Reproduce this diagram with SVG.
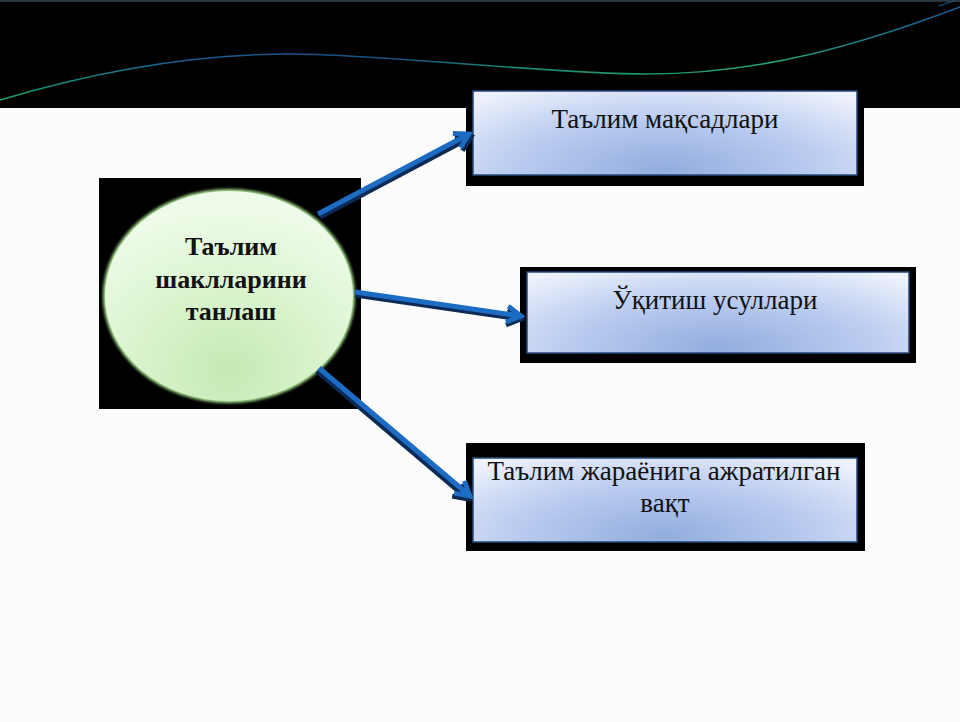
<svg xmlns="http://www.w3.org/2000/svg" width="960" height="722" viewBox="0 0 960 722">
<defs>
<style>
.box{fill:url(#bg);stroke:#24497a;stroke-width:1.5}
.frame{fill:#000}
.t{font-family:"Liberation Serif","Times New Roman",serif;font-size:27px;fill:#111;text-anchor:middle}
.tb{font-family:"Liberation Serif","Times New Roman",serif;font-size:26px;font-weight:bold;fill:#111;text-anchor:middle}
.arr{fill:none;stroke:#1c6cc4;stroke-width:5;stroke-linecap:butt}
.sh{fill:none;stroke:#0c2a55;stroke-width:5;stroke-linecap:butt}
</style>
<radialGradient id="bg" cx="0.5" cy="1" r="0.75" fx="0.5" fy="0.95" gradientTransform="translate(0.5 1) scale(1 1.6) translate(-0.5 -1)">
<stop offset="0" stop-color="#92addf"/>
<stop offset="0.55" stop-color="#bccdf0"/>
<stop offset="1" stop-color="#eef2fc"/>
</radialGradient>
<radialGradient id="cg" cx="0.5" cy="0.85" r="0.8">
<stop offset="0" stop-color="#c4eab4"/>
<stop offset="0.6" stop-color="#dff6d4"/>
<stop offset="1" stop-color="#effbea"/>
</radialGradient>
<linearGradient id="wave" x1="0" y1="0" x2="960" y2="0" gradientUnits="userSpaceOnUse">
<stop offset="0" stop-color="#1aa070"/>
<stop offset="0.2" stop-color="#1a5a92"/>
<stop offset="0.4" stop-color="#1a4f80"/>
<stop offset="0.55" stop-color="#1a8a72"/>
<stop offset="0.8" stop-color="#20a070"/>
<stop offset="1" stop-color="#1a5a9a"/>
</linearGradient>
<filter id="glow" x="-10%" y="-10%" width="120%" height="120%">
<feGaussianBlur stdDeviation="1.6"/>
</filter>
<marker id="ah" viewBox="0 0 10 10" refX="8" refY="5" markerWidth="4" markerHeight="4" orient="auto" markerUnits="strokeWidth">
<path d="M1,1 L8,5 L1,9" fill="none" stroke="#1c6cc4" stroke-width="2.4"/>
</marker>
<marker id="ahs" viewBox="0 0 10 10" refX="8" refY="5" markerWidth="4" markerHeight="4" orient="auto" markerUnits="strokeWidth">
<path d="M1,1 L8,5 L1,9" fill="none" stroke="#0c2a55" stroke-width="2.4"/>
</marker>
</defs>
<rect width="960" height="722" fill="#fcfcfc"/>
<g id="header">
<rect x="0" y="0" width="960" height="108" fill="#000"/>
<line x1="0" y1="1" x2="960" y2="1" stroke="#3a4a55" stroke-width="1.5"/>
<path d="M0,100 C100,70 200,54 290,54 C380,54 550,74 647,74 C760,74 860,45 960,7" fill="none" stroke="url(#wave)" stroke-width="1.6"/>
<path d="M938,6 L954,1" fill="none" stroke="#1a5a8a" stroke-width="1"/>
</g>
<g id="center">
<rect x="99" y="178" width="262" height="231" fill="#000"/>
<ellipse cx="229" cy="296" rx="126" ry="107" fill="#a8e090" filter="url(#glow)"/>
<ellipse cx="229" cy="296" rx="124" ry="105" fill="url(#cg)"/>
<text class="tb" x="231" y="255">Таълим</text>
<text class="tb" x="231" y="288">шаклларини</text>
<text class="tb" x="231" y="320">танлаш</text>
</g>
<g id="box1">
<rect class="frame" x="466" y="85" width="398" height="101"/>
<rect class="box" x="473" y="91" width="384" height="84"/>
<text class="t" x="665" y="128">Таълим мақсадлари</text>
</g>
<g id="box2">
<rect class="frame" x="520" y="267" width="396" height="96"/>
<rect class="box" x="527" y="272" width="382" height="81"/>
<text class="t" x="715" y="309">Ўқитиш усуллари</text>
</g>
<g id="box3">
<rect class="frame" x="466" y="443" width="399" height="108"/>
<rect class="box" x="473" y="458" width="384" height="84"/>
<text class="t" x="664" y="480">Таълим жараёнига ажратилган</text>
<text class="t" x="665" y="512">вақт</text>
</g>
<g id="connectors">
<line class="sh" x1="320" y1="217" x2="471" y2="137" marker-end="url(#ahs)"/>
<line class="arr" x1="318" y1="214" x2="469" y2="134" marker-end="url(#ah)"/>
<line class="sh" x1="355" y1="295" x2="521" y2="319" marker-end="url(#ahs)"/>
<line class="arr" x1="355" y1="292" x2="521" y2="316" marker-end="url(#ah)"/>
<line class="sh" x1="317" y1="371" x2="468" y2="499" marker-end="url(#ahs)"/>
<line class="arr" x1="319" y1="368" x2="470" y2="496" marker-end="url(#ah)"/>
</g>
</svg>
